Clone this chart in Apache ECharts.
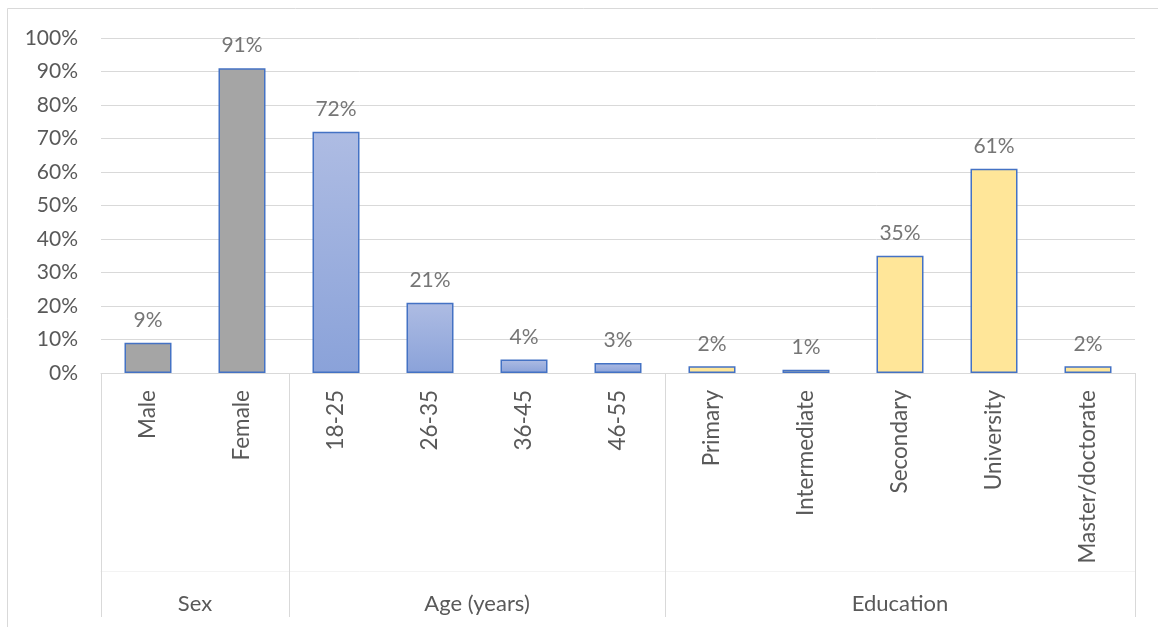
<!DOCTYPE html>
<html>
<head>
<meta charset="utf-8">
<script src="https://cdn.jsdelivr.net/npm/echarts@6/dist/echarts.min.js"></script>
<style>
  html, body { margin: 0; padding: 0; background: #ffffff; }
  #chart { width: 1158px; height: 627px; }
</style>
</head>
<body>
<div id="chart"></div>
<script>
// Respondent profile: share of respondents per category (percent)
const categories = ['Male', 'Female', '18-25', '26-35', '36-45', '46-55',
  'Primary', 'Intermediate', 'Secondary', 'University', 'Master/doctorate'];
const values = [9, 91, 72, 21, 4, 3, 2, 1, 35, 61, 2];
const groupNames = ['Sex', 'Age (years)', 'Education'];
const groupSizes = [2, 4, 5];
const yTickValues = [0, 10, 20, 30, 40, 50, 60, 70, 80, 90, 100];

// group boundaries and centres along the category axis (in category units)
const boundaries = [0];
groupSizes.forEach(n => boundaries.push(boundaries[boundaries.length - 1] + n));
const centres = groupSizes.map((n, i) => boundaries[i] + n / 2);
const groupOf = idx => { let g = 0; while (idx >= boundaries[g + 1]) g++; return g; };

const FONT = 'Lato';
const TEXT = '#595959';
const EDGE = '#4472C4';
const fills = [
  '#A5A5A5',
  new echarts.graphic.LinearGradient(0, 0, 0, 1, [
    { offset: 0, color: '#AEBCE3' }, { offset: 1, color: '#8AA2D9' }]),
  '#FFE699'
];

const chart = echarts.init(document.getElementById('chart'));
chart.setOption({
  animation: false,
  backgroundColor: '#ffffff',
  graphic: [{
    type: 'rect', z: -10,
    shape: { x: 7.5, y: 8.5, width: 1170, height: 640 },
    style: { fill: 'none', stroke: '#d9d9d9', lineWidth: 1 }
  }],
  grid: { left: 101, right: 23, top: 38, bottom: 254, containLabel: false },
  xAxis: [{
    type: 'category',
    data: categories,
    axisLine: { show: true, lineStyle: { color: '#d9d9d9', width: 1 } },
    axisTick: { show: false },
    axisLabel: { rotate: 90, margin: 17, color: TEXT, fontFamily: FONT, fontSize: 22.5, interval: 0 }
  }, {
    type: 'value', min: 0, max: boundaries[boundaries.length - 1],
    position: 'bottom',
    axisLine: { show: false },
    splitLine: { show: false },
    axisTick: { show: true, customValues: boundaries, length: 244, inside: false,
      lineStyle: { color: '#d9d9d9', width: 1 } },
    axisLabel: { customValues: centres, margin: 220, color: TEXT, fontFamily: FONT, fontSize: 22,
      formatter: v => groupNames[centres.indexOf(v)] }
  }, {
    type: 'value', min: 0, max: boundaries[boundaries.length - 1],
    position: 'bottom', offset: 198,
    axisLine: { show: true, onZero: false, lineStyle: { color: '#f3f3f3', width: 1 } },
    splitLine: { show: false }, axisTick: { show: false }, axisLabel: { show: false }
  }],
  yAxis: {
    type: 'value', min: 0, max: 100, interval: 10,
    axisLine: { show: false }, axisTick: { show: false },
    splitLine: { lineStyle: { color: '#d9d9d9', width: 1 } },
    axisLabel: { margin: 23, color: TEXT, fontFamily: FONT, fontSize: 21,
      formatter: v => yTickValues.includes(v) ? v + '%' : '' }
  },
  series: [{
    type: 'bar',
    xAxisIndex: 0, yAxisIndex: 0,
    barWidth: '50%',
    data: values.map((v, i) => ({
      value: v,
      itemStyle: { color: fills[groupOf(i)], borderColor: EDGE, borderWidth: 1.5 }
    })),
    label: { show: true, position: 'top', distance: 12, color: '#767676',
      fontFamily: FONT, fontSize: 21, formatter: p => p.value + '%' }
  }]
});
</script>
</body>
</html>
